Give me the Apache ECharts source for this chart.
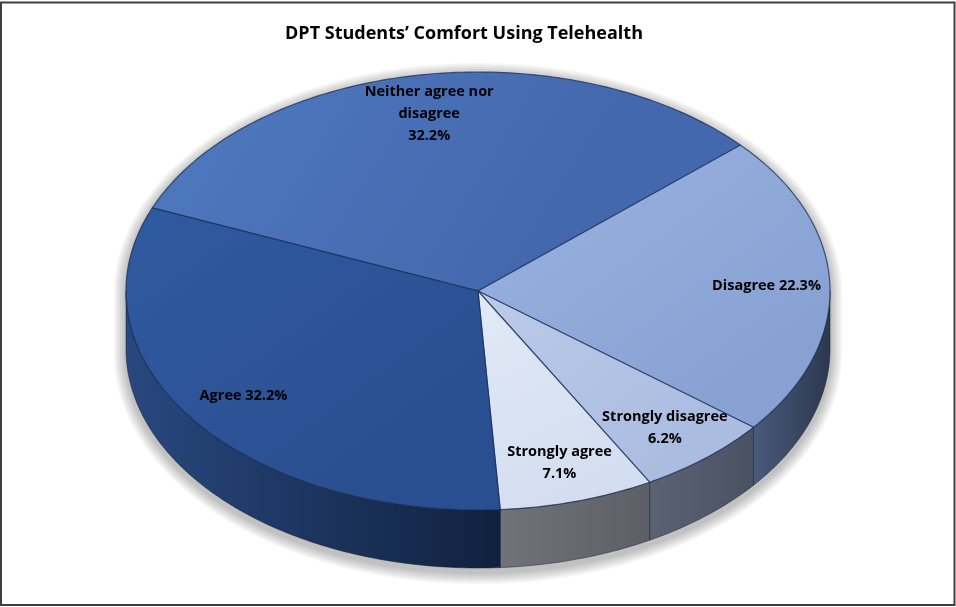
<!DOCTYPE html>
<html lang="en">
<head>
<meta charset="UTF-8">
<title>pie3d</title>
<style>
  html, body { margin: 0; padding: 0; background: #fff; }
  #main { width: 956px; height: 607px; }
</style>
</head>
<body>
<div id="main"></div>
<script src="https://cdn.jsdelivr.net/npm/echarts@6/dist/echarts.min.js"></script>
<script>
// data, clockwise from the upper left
var categories = ['Neither agree nor\ndisagree', 'Disagree', 'Strongly disagree', 'Strongly agree', 'Agree'];
var values = [32.2, 22.3, 6.2, 7.1, 32.2];
var labelJoin = ['\n', ' ', '\n', '\n', ' '];

// colours (top face gradient, side gradient)
var topColors = [['#4F7AC0', '#4468AE'], ['#9AB3E0', '#87A1D3'], ['#BCCBEA', '#AABCE0'], ['#E2E9F6', '#D3DDF0'], ['#305AA0', '#2A4F90']];
var sideColors = [['#2E4A80', '#203A6A'], ['#4A5A7C', '#2C384E'], ['#5A6273', '#4A5163'], ['#707479', '#5C6066'], ['#28487F', '#10213F']];

// geometry of the tilted pie
var cx = 478, cy = 291, rx = 352, ry = 219, depth = 58;
var startAngle = 202.3 * Math.PI / 180;
var labelFrac = 0.82;

var total = values.reduce(function (s, v) { return s + v; }, 0);
var angles = [];
var acc = startAngle;
values.forEach(function (v) {
    var a = v / total * Math.PI * 2;
    angles.push([acc, acc + a]);
    acc += a;
});

function pt(a, r, dy, grow) {
    r = r == null ? 1 : r;
    grow = grow || 0;
    return [cx + (rx * r + grow) * Math.cos(a), cy + (ry * r + grow) * Math.sin(a) + (dy || 0)];
}

function arc(a0, a1, dy, grow) {
    var n = Math.max(2, Math.ceil(Math.abs(a1 - a0) / (Math.PI / 180)));
    var out = [];
    for (var k = 0; k <= n; k++) out.push(pt(a0 + (a1 - a0) * k / n, 1, dy, grow));
    return out;
}

function grad(c, dir) {
    return new echarts.graphic.LinearGradient(0, 0, dir ? 1 : 0.6, dir ? 0 : 1, [
        { offset: 0, color: c[0] },
        { offset: 1, color: c[1] }
    ]);
}

// soft shadow under the whole pie, built from a few faint grown outlines
function renderShadow() {
    var layers = [];
    for (var g = 12; g >= 2; g -= 2) {
        layers.push({
            type: 'polygon',
            shape: { points: arc(Math.PI, Math.PI * 2, 3, g).concat(arc(0, Math.PI, depth + 4, g)) },
            style: { fill: 'rgba(0,0,0,0.045)' }
        });
    }
    return { type: 'group', children: layers };
}

function renderSide(params) {
    var i = params.dataIndex;
    var lo = Math.max(angles[i][0], Math.PI * 2);
    var hi = Math.min(angles[i][1], Math.PI * 3);
    if (hi <= lo) return { type: 'group', children: [] };
    var pts = arc(lo, hi, 0).concat(arc(hi, lo, depth));
    return {
        type: 'polygon',
        shape: { points: pts },
        style: { fill: grad(sideColors[i], true), stroke: 'rgba(20,30,50,0.5)', lineWidth: 1 }
    };
}

function renderTop(params) {
    var i = params.dataIndex;
    var a0 = angles[i][0], a1 = angles[i][1];
    var pts = [[cx, cy]].concat(arc(a0, a1, 0));
    var lp = pt((a0 + a1) / 2, labelFrac);
    return {
        type: 'group',
        children: [
            {
                type: 'polygon',
                shape: { points: pts },
                style: { fill: grad(topColors[i], false), stroke: 'rgba(25,45,85,0.75)', lineWidth: 1.2 }
            },
            {
                type: 'text',
                x: lp[0],
                y: lp[1],
                z2: 10,
                style: {
                    text: categories[i] + labelJoin[i] + values[i].toFixed(1) + '%',
                    fill: '#000',
                    font: 'bold 14.5px "Open Sans", "Noto Sans", sans-serif',
                    align: 'center',
                    verticalAlign: 'middle',
                    lineHeight: 22
                }
            }
        ]
    };
}

var myChart = echarts.init(document.getElementById('main'));
var option = {
    backgroundColor: '#fff',
    animation: false,
    title: {
        text: 'DPT Students\u2019 Comfort Using Telehealth',
        left: 459,
        top: 20,
        textAlign: 'center',
        textStyle: { fontSize: 18, fontWeight: 'bold', color: '#000', fontFamily: '"Open Sans", "Noto Sans", sans-serif' }
    },
    graphic: [
        {
            type: 'rect',
            z: 100,
            shape: { x: 1, y: 2.5, width: 953.5, height: 602.5 },
            style: { fill: 'none', stroke: '#3f3f3f', lineWidth: 2 }
        }
    ],
    series: [
        { type: 'custom', coordinateSystem: 'none', z: 4, renderItem: renderShadow, data: [0] },
        { type: 'custom', coordinateSystem: 'none', z: 5, renderItem: renderSide, data: values },
        { type: 'custom', coordinateSystem: 'none', z: 6, renderItem: renderTop, data: values }
    ]
};
myChart.setOption(option);
</script>
</body>
</html>
